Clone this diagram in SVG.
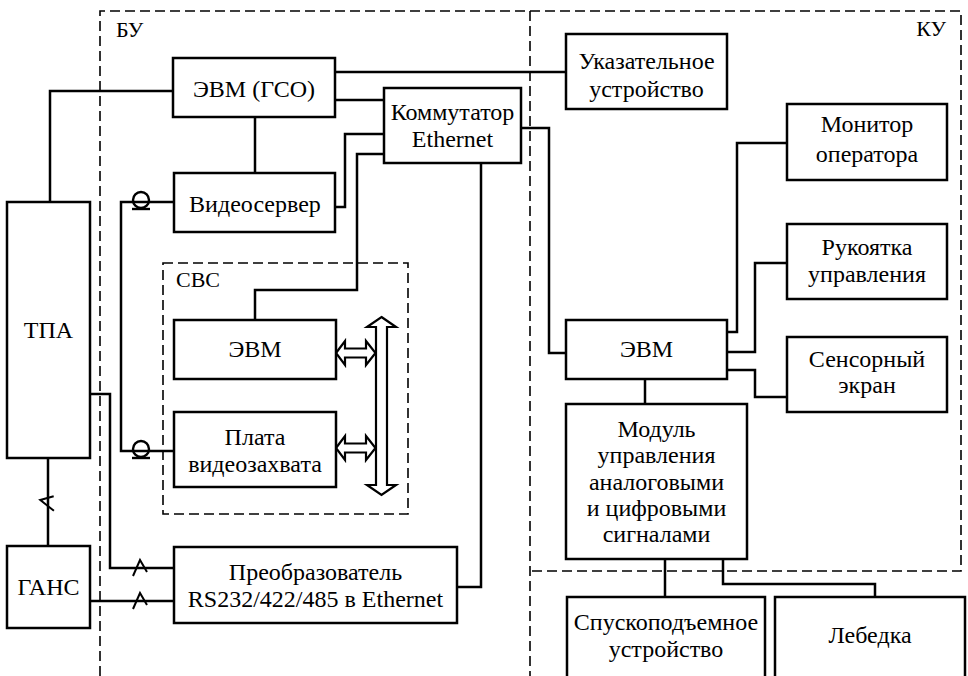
<svg xmlns="http://www.w3.org/2000/svg" width="968" height="676" viewBox="0 0 968 676">
<style>
.box{fill:#fff;stroke:#000;stroke-width:2.5}
.c{fill:none;stroke:#000;stroke-width:2.5}
.d{fill:none;stroke:#000;stroke-width:1.6;stroke-dasharray:10,5}
.t{font-family:"Liberation Serif",serif;font-size:24px;fill:#000;text-anchor:middle}
.l{font-family:"Liberation Serif",serif;font-size:22px;fill:#000}
.ha{fill:#fff;stroke:#000;stroke-width:2.2;stroke-linejoin:miter}
</style>
<defs>
<g id="zz"><path d="M-7,8 L0,-8 L7,4" fill="none" stroke="#000" stroke-width="2"/></g>
<g id="coax"><circle cx="0" cy="-2" r="8" fill="none" stroke="#000" stroke-width="2.4"/><line x1="-9" y1="7" x2="9" y2="7" stroke="#000" stroke-width="2.4"/></g>
</defs>
<rect width="968" height="676" fill="#fff"/>
<g id="regions">
<path class="d" d="M100,676 V11 H961 V571 H530"/>
<path class="d" d="M530,11 V676"/>
<rect class="d" x="163" y="263" width="245" height="251"/>
<text class="l" x="116" y="37">БУ</text>
<text class="l" x="946" y="36" text-anchor="end">КУ</text>
<text class="l" x="176" y="287">СВС</text>
</g>

<g id="connectors">
<path class="c" d="M173,91 H50 V202"/>
<path class="c" d="M255,117 V173"/>
<path class="c" d="M335,72 H566"/>
<path class="c" d="M335,100 H384"/>
<path class="c" d="M384,134 H345 V207 H335"/>
<path class="c" d="M384,154 H357 V290 H255 V320"/>
<path class="c" d="M174,202 H121 V451 H174"/>
<path class="c" d="M90,394 H110 V568 H174"/>
<path class="c" d="M48,458 V546"/>
<path class="c" d="M90,601 H174"/>
<path class="c" d="M457,587 H481 V163"/>
<path class="c" d="M521,128 H549 V353 H566"/>
<path class="c" d="M645,379 V404"/>
<path class="c" d="M727,332 H737 V143 H787"/>
<path class="c" d="M727,352 H755 V263 H787"/>
<path class="c" d="M727,370 H755 V397 H787"/>
<path class="c" d="M665,559 V597"/>
<path class="c" d="M723,559 V584 H875 V597"/>
<use href="#coax" x="141" y="202"/>
<use href="#coax" x="141" y="451"/>
<use href="#zz" x="140" y="568"/>
<use href="#zz" x="140" y="601"/>
<use href="#zz" transform="translate(48,502) rotate(-75)"/>
</g>

<g id="bus">
<polygon class="ha" points="381.5,317 396,327 387,327 387,485 396,485 381.5,495 367,485 376,485 376,327 367,327"/>
<polygon class="ha" points="336,353 345,341 345,348.5 366,348.5 366,341 375.5,353 366,365 366,357.5 345,357.5 345,365"/>
<polygon class="ha" points="336,448 345,436 345,443.5 366,443.5 366,436 375.5,448 366,460 366,452.5 345,452.5 345,460"/>
</g>

<g id="evm-gso"><rect class="box" x="173" y="58" width="162" height="59"/><text class="t" x="254" y="97">ЭВМ (ГСО)</text></g>
<g id="kommutator"><rect class="box" x="384" y="88" width="137" height="75"/><text class="t" x="452.5" y="120">Коммутатор</text><text class="t" x="452.5" y="147">Ethernet</text></g>
<g id="ukazatel"><rect class="box" x="566" y="34" width="161" height="75"/><text class="t" x="646.5" y="69">Указательное</text><text class="t" x="646.5" y="97">устройство</text></g>
<g id="videoserver"><rect class="box" x="174" y="173" width="161" height="59"/><text class="t" x="255" y="212">Видеосервер</text></g>
<g id="tpa"><rect class="box" x="7" y="202" width="83" height="256"/><text class="t" x="48.5" y="338">ТПА</text></g>
<g id="svs-evm"><rect class="box" x="174" y="320" width="162" height="59"/><text class="t" x="255" y="357">ЭВМ</text></g>
<g id="plata"><rect class="box" x="174" y="412" width="162" height="75"/><text class="t" x="255" y="445">Плата</text><text class="t" x="255" y="472">видеозахвата</text></g>
<g id="gans"><rect class="box" x="7" y="546" width="83" height="82"/><text class="t" x="48.5" y="595">ГАНС</text></g>
<g id="preobr"><rect class="box" x="174" y="547" width="283" height="76"/><text class="t" x="315.5" y="580">Преобразователь</text><text class="t" x="315.5" y="607">RS232/422/485 в Ethernet</text></g>
<g id="ku-evm"><rect class="box" x="566" y="320" width="161" height="59"/><text class="t" x="646.5" y="357">ЭВМ</text></g>
<g id="modul"><rect class="box" x="566" y="404" width="181" height="155"/>
<text class="t" x="656.5" y="437">Модуль</text><text class="t" x="656.5" y="463">управления</text><text class="t" x="656.5" y="490">аналоговыми</text><text class="t" x="656.5" y="516">и цифровыми</text><text class="t" x="656.5" y="542">сигналами</text></g>
<g id="monitor"><rect class="box" x="787" y="104" width="160" height="76"/><text class="t" x="867" y="132">Монитор</text><text class="t" x="867" y="162">оператора</text></g>
<g id="rukoyatka"><rect class="box" x="787" y="224" width="160" height="75"/><text class="t" x="867" y="255">Рукоятка</text><text class="t" x="867" y="282">управления</text></g>
<g id="sensor"><rect class="box" x="787" y="337" width="160" height="75"/><text class="t" x="867" y="367">Сенсорный</text><text class="t" x="867" y="393">экран</text></g>
<g id="spusk"><rect class="box" x="567" y="597" width="198" height="100"/><text class="t" x="666" y="630">Спускоподъемное</text><text class="t" x="666" y="657">устройство</text></g>
<g id="lebedka"><rect class="box" x="775" y="597" width="190" height="100"/><text class="t" x="870" y="643">Лебедка</text></g>
</svg>
